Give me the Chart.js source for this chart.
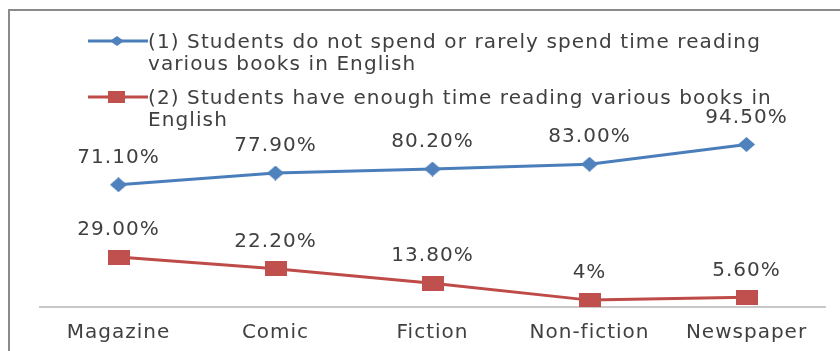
<!DOCTYPE html>
<html>
<head>
<meta charset="utf-8">
<script src="https://cdn.jsdelivr.net/npm/chart.js@4.4.1/dist/chart.umd.min.js"></script>
<style>
  html, body { margin: 0; padding: 0; background: #fff; overflow: hidden; }
  .frame {
    position: absolute; left: 8px; top: 9px; width: 900px; height: 400px;
    border-left: 2px solid #8a8a8a; border-top: 2px solid #8a8a8a;
  }
  #chart { position: absolute; left: 0; top: 0; }
  .legend-item {
    position: absolute; left: 88px;
    font-family: 'DejaVu Sans'; font-size: 20px; line-height: 22px;
    letter-spacing: 1.1px; color: #404040; white-space: nowrap;
  }
  .legend-item svg { position: absolute; left: 0; top: 2px; }
  .legend-item .txt { margin-left: 60px; }
</style>
</head>
<body>
<div class="frame"></div>
<canvas id="chart" width="840" height="351"></canvas>
<div id="legend"></div>

<script>
const categories = ['Magazine', 'Comic', 'Fiction', 'Non-fiction', 'Newspaper'];
const notReading = [71.1, 77.9, 80.2, 83.0, 94.5];
const enoughTime = [29.0, 22.2, 13.8, 4, 5.6];
const notReadingLabels = ['71.10%', '77.90%', '80.20%', '83.00%', '94.50%'];
const enoughTimeLabels = ['29.00%', '22.20%', '13.80%', '4%', '5.60%'];
const seriesNames = [
  ['(1) Students do not spend or rarely spend time reading', 'various books in English'],
  ['(2) Students have enough time reading various books in', 'English'],
];

const blueLine = '#4A7EBB';
const blueMark = '#4F81BD';
const redLine = '#BE4B48';
const redMark = '#C0504D';
const textColor = '#404040';

// marker images so the shapes can be a bit wider than tall like the original
function diamond(w, h, color) {
  const c = document.createElement('canvas');
  c.width = w; c.height = h;
  const g = c.getContext('2d');
  g.fillStyle = color;
  g.beginPath();
  g.moveTo(w / 2, 0); g.lineTo(w, h / 2); g.lineTo(w / 2, h); g.lineTo(0, h / 2);
  g.closePath(); g.fill();
  return c;
}
function block(w, h, color) {
  const c = document.createElement('canvas');
  c.width = w; c.height = h;
  const g = c.getContext('2d');
  g.fillStyle = color;
  g.fillRect(0, 0, w, h);
  return c;
}

// legend (html so the long names can wrap like the original)
const legendTops = [30, 86];
const legendColors = [[blueLine, blueMark, 'diamond'], [redLine, redMark, 'rect']];
document.getElementById('legend').innerHTML = seriesNames.map((lines, i) => {
  const [lc, mc, shape] = legendColors[i];
  const mark = shape === 'diamond'
    ? `<polygon points="29,4 36,9 29,14 22,9" fill="${mc}"/>`
    : `<rect x="20" y="3" width="17" height="12" fill="${mc}"/>`;
  return `
    <div class="legend-item" style="top:${legendTops[i]}px">
      <svg width="60" height="18"><line x1="0" y1="9" x2="60" y2="9" stroke="${lc}" stroke-width="3"/>${mark}</svg>
      <div class="txt">${lines.join('<br>')}</div>
    </div>`;
}).join('');

const valueLabels = {
  id: 'valueLabels',
  beforeDraw(chart) {
    chart.ctx.letterSpacing = '1px';
  },
  afterDatasetsDraw(chart) {
    const ctx = chart.ctx;
    const texts = [notReadingLabels, enoughTimeLabels];
    ctx.save();
    ctx.font = '20px "DejaVu Sans"';
    ctx.fillStyle = textColor;
    ctx.textAlign = 'center';
    ctx.textBaseline = 'middle';
    chart.data.datasets.forEach((ds, i) => {
      chart.getDatasetMeta(i).data.forEach((pt, j) => {
        ctx.fillText(texts[i][j], pt.x, pt.y - 27);
      });
    });
    ctx.restore();
  },
};

Chart.defaults.font.family = 'DejaVu Sans';
Chart.defaults.color = textColor;

new Chart(document.getElementById('chart'), {
  type: 'line',
  data: {
    labels: categories,
    datasets: [
      {
        label: seriesNames[0].join(' '),
        data: notReading,
        borderColor: blueLine,
        borderWidth: 3,
        pointStyle: diamond(17, 15, blueMark),
        tension: 0,
      },
      {
        label: seriesNames[1].join(' '),
        data: enoughTime,
        borderColor: redLine,
        borderWidth: 3,
        pointStyle: block(22, 15, redMark),
        tension: 0,
      },
    ],
  },
  options: {
    responsive: false,
    animation: false,
    layout: { padding: { left: 40, right: 15, top: 135, bottom: 6 } },
    plugins: {
      legend: { display: false },
      tooltip: { enabled: false },
    },
    scales: {
      x: {
        offset: true,
        grid: { display: false, drawTicks: false },
        border: { display: true, color: '#c8c8c8', width: 2 },
        ticks: { font: { size: 20 }, color: textColor, padding: 14 },
        afterFit(scale) { scale.height = 38; },
      },
      y: { display: false, min: 0, max: 100 },
    },
  },
  plugins: [valueLabels],
});
</script>
</body>
</html>
